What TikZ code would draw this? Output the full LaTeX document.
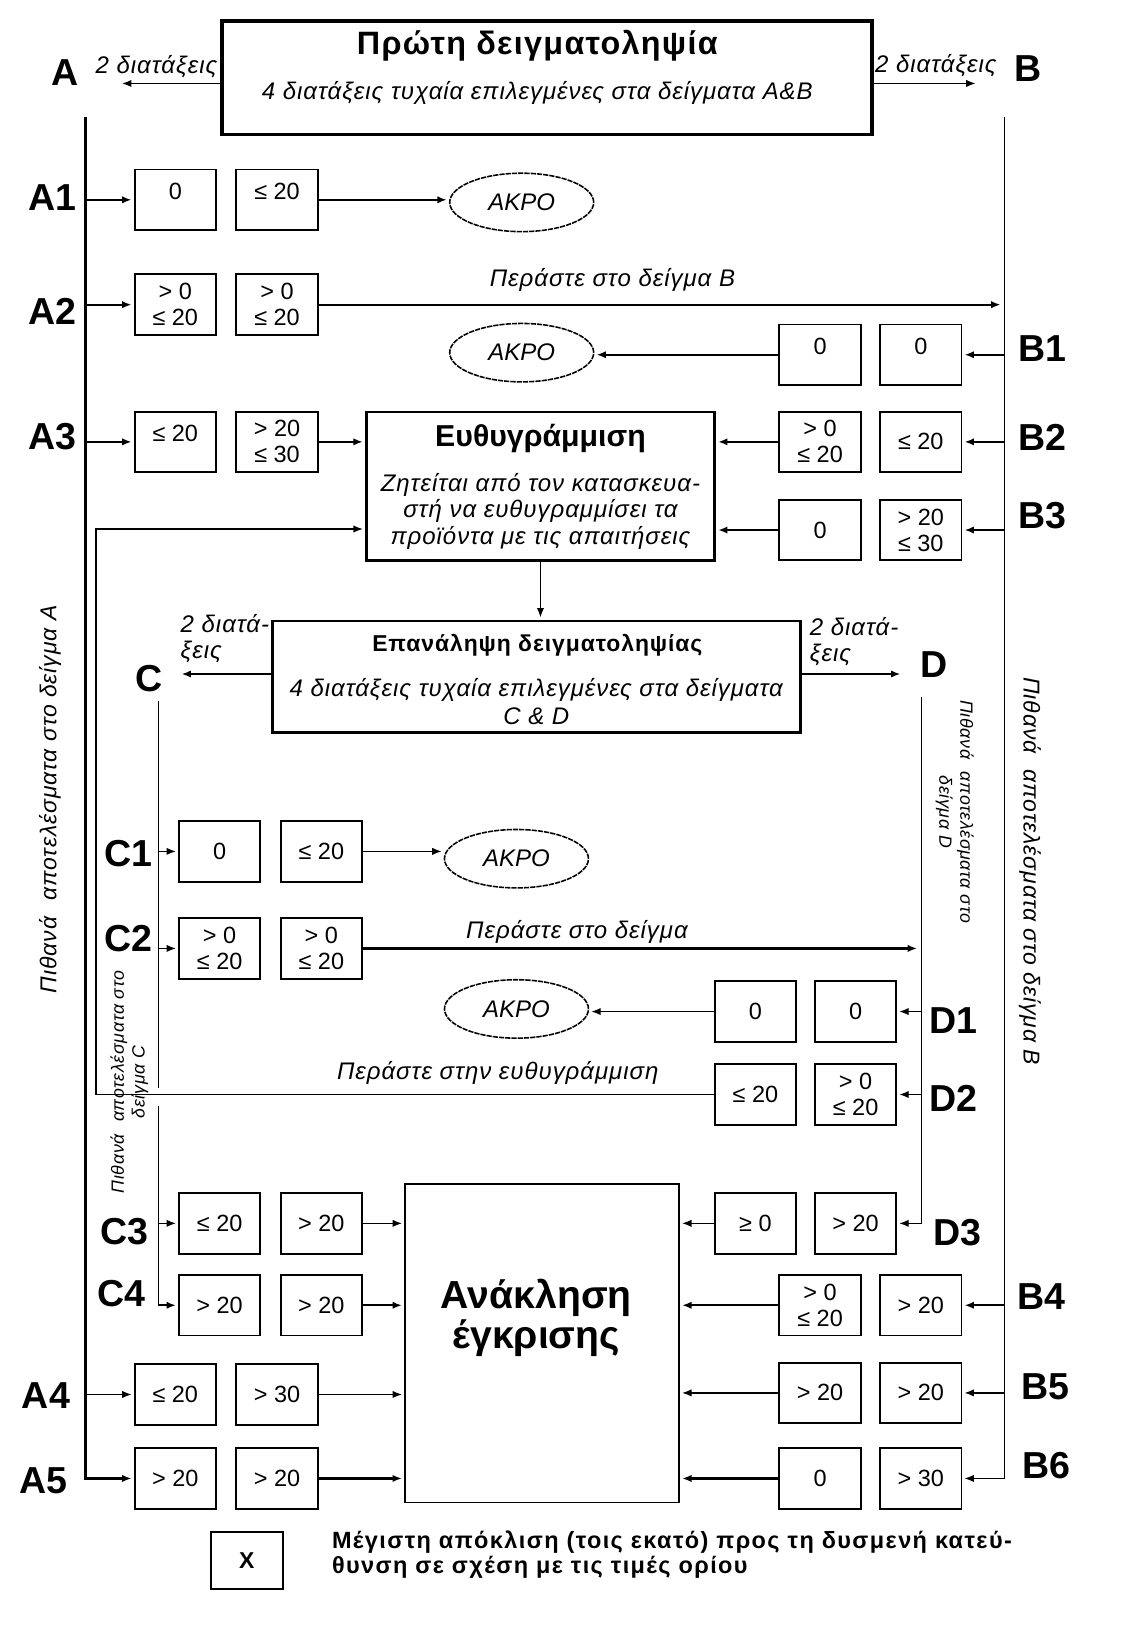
\documentclass[tikz,border=0pt]{standalone}
\usepackage{fontspec}
\setmainfont{Liberation Sans}
\newfontfamily\wide[LetterSpace=4]{Liberation Sans}
\newfontfamily\wider[LetterSpace=6]{Liberation Sans}
\usetikzlibrary{arrows.meta,shapes.geometric}
\begin{document}
\begin{tikzpicture}[x=1pt,y=-1pt,
 lab/.style={font=\bfseries\fontsize{36}{36}\selectfont, inner sep=0pt},
 cell/.style={draw, line width=1.8pt, minimum width=78pt, minimum height=58pt, inner sep=1pt, align=center, font=\fontsize{22.5}{25}\selectfont},
 hi/.style={text depth=16pt},
 akro/.style={draw, ellipse, line width=1.5pt, dash pattern=on 5pt off 1pt, minimum width=138pt, minimum height=56pt, inner sep=0pt, font=\itshape\fontsize{23}{23}\selectfont},
 thk/.style={line width=2.2pt},
 thn/.style={line width=1.2pt},
 arr/.style={-{Latex[length=9pt,width=7pt]}, shorten >=2pt},
 itxt/.style={font=\wide\itshape\fontsize{23}{25}\selectfont, inner sep=0pt},
 btitle/.style={font=\bfseries\fontsize{29}{29}\selectfont, inner sep=0pt},
 rot/.style={font=\wide\itshape\fontsize{22}{25}\selectfont, inner sep=0pt},
 srot/.style={font=\wide\itshape\fontsize{17}{20}\selectfont, inner sep=0pt, align=center},
]
\useasboundingbox (0,0) rectangle (1088,1568);

% ---------- top box ----------
\node[draw, line width=3.5pt, minimum width=623pt, minimum height=109pt] (top) at (524.5,74.5) {};
\node[font=\wide\bfseries\fontsize{31}{31}\selectfont, inner sep=0pt] (topT) at (515,44) {Πρώτη δειγματοληψία};
\node[itxt] (topS) at (515,89) {4 διατάξεις τυχαία επιλεγμένες στα δείγματα A\&B};
\node[lab] (lA) at (62,70) {A};
\node[lab] (lB) at (985,66) {B};
\coordinate (Aa) at (115,80);
\coordinate (Ba) at (937,80);
\draw[thn,arr] (top.west |- Aa) -- (Aa);
\draw[thn,arr] (top.east |- Ba) -- (Ba);
\node[itxt] (tA) at (150,64) {2 διατάξεις};
\node[itxt] (tB) at (897,63) {2 διατάξεις};

\coordinate (Atop) at (82,112);
\coordinate (Btop) at (963,112);

% ---------- row cells ----------
\node[cell,hi] (A1a) at (168,191.5) {0};
\node[cell,hi] (A1b) at (265.5,191.5) {≤ 20};
\node[cell] (A2a) at (168,292) {> 0\\≤ 20};
\node[cell] (A2b) at (265.5,292) {> 0\\≤ 20};
\node[cell,hi] (A3a) at (168,423.5) {≤ 20};
\node[cell] (A3b) at (265.5,423.5) {> 20\\≤ 30};
\node[cell] (A4a) at (168,1336.5) {≤ 20};
\node[cell] (A4b) at (265.5,1336.5) {> 30};
\node[cell] (A5a) at (168,1417) {> 20};
\node[cell] (A5b) at (265.5,1417) {> 20};

\node[cell,hi] (B1a) at (786,340) {0};
\node[cell,hi] (B1b) at (882.5,340) {0};
\node[cell] (B2a) at (786,423.5) {> 0\\≤ 20};
\node[cell] (B2b) at (882.5,423.5) {≤ 20};
\node[cell] (B3a) at (786,508) {0};
\node[cell] (B3b) at (882.5,508) {> 20\\≤ 30};
\node[cell] (B4a) at (786,1251) {> 0\\≤ 20};
\node[cell] (B4b) at (882.5,1251) {> 20};
\node[cell] (B5a) at (786,1335) {> 20};
\node[cell] (B5b) at (882.5,1335) {> 20};
\node[cell] (B6a) at (786,1417) {0};
\node[cell] (B6b) at (882.5,1417) {> 30};

\node[cell] (C1a) at (210.5,816) {0};
\node[cell] (C1b) at (308,816) {≤ 20};
\node[cell] (C2a) at (210.5,909) {> 0\\≤ 20};
\node[cell] (C2b) at (308,909) {> 0\\≤ 20};
\node[cell] (C3a) at (210.5,1172.5) {≤ 20};
\node[cell] (C3b) at (308,1172.5) {> 20};
\node[cell] (C4a) at (210.5,1251) {> 20};
\node[cell] (C4b) at (308,1251) {> 20};

\node[cell] (D1a) at (724,969.5) {0};
\node[cell] (D1b) at (820,969.5) {0};
\node[cell] (D2a) at (724,1049) {≤ 20};
\node[cell] (D2b) at (820,1049) {> 0\\≤ 20};
\node[cell] (D3a) at (724,1172.5) {≥ 0};
\node[cell] (D3b) at (820,1172.5) {> 20};

% ---------- row labels ----------
\node[lab] (lA1) at (50,189) {A1};
\node[lab] (lA2) at (50,298) {A2};
\node[lab] (lA3) at (50,418) {A3};
\node[lab] (lA4) at (44,1338) {A4};
\node[lab] (lA5) at (42,1419) {A5};
\node[lab] (lB1) at (999,334) {B1};
\node[lab] (lB2) at (999,419) {B2};
\node[lab] (lB3) at (999,494) {B3};
\node[lab] (lB4) at (998,1243) {B4};
\node[lab] (lB5) at (1002,1329) {B5};
\node[lab] (lB6) at (1003,1405) {B6};
\node[lab] (lC1) at (123,818) {C1};
\node[lab] (lC2) at (123,900) {C2};
\node[lab] (lC3) at (119,1180) {C3};
\node[lab] (lC4) at (116,1240) {C4};
\node[lab] (lD1) at (914,978) {D1};
\node[lab] (lD2) at (914,1053) {D2};
\node[lab] (lD3) at (918,1181) {D3};
\node[lab] (lC) at (143,650) {C};
\node[lab] (lD) at (895,637) {D};

% ---------- ellipses ----------
\node[akro] (E1) at (500,194) {ΑΚΡΟ};
\node[akro] (E2) at (500,338) {ΑΚΡΟ};
\node[akro] (E3) at (495,823) {ΑΚΡΟ};
\node[akro] (E4) at (495,967) {ΑΚΡΟ};

% ---------- big boxes ----------
\node[draw, line width=2.5pt, minimum width=334pt, minimum height=142pt] (euth) at (518,466) {};
\node[btitle] (euthT) at (518,420) {Ευθυγράμμιση};
\node[itxt] (euth1) at (518,465) {Ζητείται από τον κατασκευα-};
\node[itxt] (euth2) at (518,490) {στή να ευθυγραμμίσει τα};
\node[itxt] (euth3) at (518,516) {προϊόντα με τις απαιτήσεις};

\node[draw, line width=2.5pt, minimum width=506pt, minimum height=107pt] (rep) at (514,648.5) {};
\node[font=\wide\bfseries\fontsize{22}{22}\selectfont, inner sep=0pt] (repT) at (515,618) {Επανάληψη δειγματοληψίας};
\node[itxt] (rep1) at (514,661) {4 διατάξεις τυχαία επιλεγμένες στα δείγματα};
\node[itxt] (rep2) at (514,686) {C \& D};

\node[draw, line width=1.5pt, minimum width=263pt, minimum height=305pt] (ank) at (519.5,1287.5) {};
\node[font=\bfseries\fontsize{37.5}{39}\selectfont, inner sep=0pt, align=center] (ankT) at (514,1263) {Ανάκληση\\έγκρισης};

% ---------- side texts ----------
\node[itxt, anchor=west, align=left] (tC) at (173,612) {2 διατά-\\ξεις};
\node[itxt, anchor=west, align=left] (tD) at (776,615) {2 διατά-\\ξεις};
\coordinate (Ca) at (172,646);
\coordinate (Da) at (865,646);
\draw[thk,arr] (rep.west |- Ca) -- (Ca);
\draw[thk,arr] (rep.east |- Da) -- (Da);

\node[rot, rotate=90] (rA) at (48,766) {Πιθανά\hspace{0.7em}αποτελέσματα στο δείγμα A};
\node[rot, rotate=-90] (rB) at (987,835) {Πιθανά\hspace{0.7em}αποτελέσματα στο δείγμα B};
\node[srot, rotate=90] (rC) at (124,1037) {Πιθανά\hspace{0.7em}αποτελέσματα στο\\δείγμα C};
\node[srot, rotate=-90] (rD) at (915,778) {Πιθανά\hspace{0.7em}αποτελέσματα στο\\δείγμα D};

\node[itxt] (pB) at (587,268) {Περάστε στο δείγμα B};
\node[itxt] (pD) at (553,893) {Περάστε στο δείγμα};
\node[itxt] (pE) at (477,1028) {Περάστε στην ευθυγράμμιση};

% ---------- main vertical lines ----------
\draw[thk,arr] (Atop) |- (A5a.west);
\draw[thn,arr] (Btop) |- (B6b.east);
\coordinate (Ctop) at (152,672);
\coordinate (Cgap1) at (152,1043);
\coordinate (Cgap2) at (152,1060);
\draw[line width=1.6pt] (Ctop) -- (Cgap1);
\draw[line width=1.6pt,arr] (Cgap2) |- (C4a.west);
\coordinate (Dtop) at (883,668);
\draw[thn,arr] (Dtop) |- (D3b.east);

% ---------- row arrows (in) ----------
\draw[thk,arr] (Atop |- A1a.west) -- (A1a.west);
\draw[thk,arr] (Atop |- A2a.west) -- (A2a.west);
\draw[thk,arr] (Atop |- A3a.west) -- (A3a.west);
\draw[thn,arr] (Atop |- A4a.west) -- (A4a.west);
\draw[thk,arr] (Btop |- B1b.east) -- (B1b.east);
\draw[thk,arr] (Btop |- B2b.east) -- (B2b.east);
\draw[thk,arr] (Btop |- B3b.east) -- (B3b.east);
\draw[thk,arr] (Btop |- B4b.east) -- (B4b.east);
\draw[thn,arr] (Btop |- B5b.east) -- (B5b.east);
\draw[thn,arr] (Ctop |- C1a.west) -- (C1a.west);
\draw[thn,arr] (Ctop |- C2a.west) -- (C2a.west);
\draw[thn,arr] (Ctop |- C3a.west) -- (C3a.west);
\draw[thn,arr] (Dtop |- D1b.east) -- (D1b.east);
\draw[thn,arr] (Dtop |- D2b.east) -- (D2b.east);

% ---------- row arrows (out) ----------
\draw[thk,arr] (A1b.east) -- (E1.west |- A1b.east);
\draw[thk,arr,shorten >=4pt] (A2b.east) -- (Btop |- A2b.east);
\draw[thk,arr] (A3b.east) -- (euth.west |- A3b.east);
\draw[thn,arr] (A4b.east) -- (ank.west |- A4b.east);
\draw[thk,arr] (A5b.east) -- (ank.west |- A5b.east);
\draw[thk,arr] (B1a.west) -- (E2.east |- B1a.west);
\draw[thk,arr] (B2a.west) -- (euth.east |- B2a.west);
\draw[thk,arr] (B3a.west) -- (euth.east |- B3a.west);
\draw[thk,arr] (B4a.west) -- (ank.east |- B4a.west);
\draw[thn,arr] (B5a.west) -- (ank.east |- B5a.west);
\draw[thk,arr] (B6a.west) -- (ank.east |- B6a.west);
\draw[thn,arr] (C1b.east) -- (E3.west |- C1b.east);
\draw[thk,arr,shorten >=4pt] (C2b.east) -- (Dtop |- C2b.east);
\draw[thn,arr] (C3b.east) -- (ank.west |- C3b.east);
\draw[thk,arr] (C4b.east) -- (ank.west |- C4b.east);
\draw[thn,arr] (D1a.west) -- (E4.east |- D1a.west);
\draw[thn,arr] (D3a.west) -- (ank.east |- D3a.west);
\coordinate (Lup) at (92,507);
\draw[thn,arr] (D2a.west) -| (Lup) -- (euth.west |- Lup);
\draw[thn,arr] (euth.south) -- (euth.south |- rep.north);

% ---------- legend ----------
\node[draw, line width=1.8pt, minimum width=69pt, minimum height=55pt, font=\bfseries\fontsize{22}{22}\selectfont] (leg) at (236.5,1495.5) {X};
\node[font=\wider\bfseries\fontsize{22.5}{24}\selectfont, inner sep=0pt, anchor=north west, align=left] (legT) at (318,1467) {Μέγιστη απόκλιση (τοις εκατό) προς τη δυσμενή κατεύ-\\θυνση σε σχέση με τις τιμές ορίου};
\end{tikzpicture}
\end{document}
